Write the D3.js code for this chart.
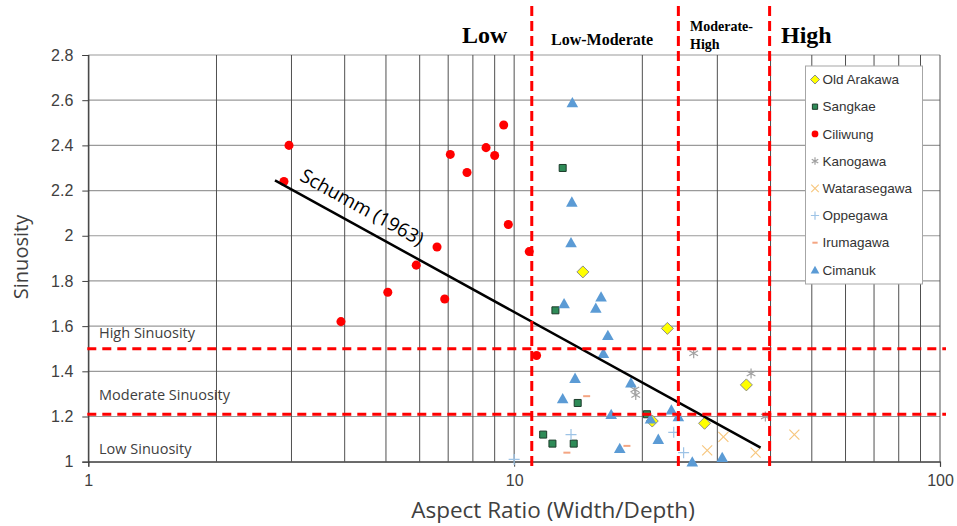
<!DOCTYPE html>
<html>
<head>
<meta charset="utf-8">
<script src="https://cdn.jsdelivr.net/npm/d3@7"></script>
<style>
  body { margin: 0; background: #fff; }
  svg { display: block; }
</style>
</head>
<body>
<script>
// data: [aspect ratio, sinuosity]
const oldArakawa = [[14.5, 1.84], [22.9, 1.59], [35.1, 1.34], [28.0, 1.17], [21.1, 1.18]];
const sangkae = [[13.0, 2.30], [12.5, 1.67], [14.1, 1.26], [11.7, 1.12], [12.3, 1.08], [13.8, 1.08], [20.5, 1.21]];
const ciliwung = [[2.96, 2.40], [2.88, 2.24], [7.08, 2.36], [8.59, 2.39], [9.0, 2.355], [9.45, 2.49],
  [7.75, 2.28], [9.69, 2.05], [6.59, 1.95], [10.85, 1.93], [5.89, 1.87], [5.05, 1.75], [6.87, 1.72],
  [3.92, 1.62], [11.29, 1.47]];
const kanogawa = [[26.4, 1.48], [36.0, 1.39], [19.2, 1.32], [19.3, 1.295], [38.9, 1.20]];
const watarasegawa = [[31.0, 1.11], [28.4, 1.05], [36.9, 1.04], [45.5, 1.12]];
const oppegawa = [[13.6, 1.12], [10.0, 1.01], [23.7, 1.13], [25.0, 1.04]];
const irumagawa = [[14.8, 1.29], [13.3, 1.04], [18.4, 1.07]];
const cimanuk = [[13.7, 2.59], [13.66, 2.15], [13.6, 1.97], [16.0, 1.73], [13.1, 1.70], [15.55, 1.68],
  [16.6, 1.56], [16.2, 1.48], [13.9, 1.37], [13.0, 1.28], [18.8, 1.35], [16.9, 1.21], [17.7, 1.06],
  [23.4, 1.23], [24.3, 1.20], [21.8, 1.10], [26.2, 1.00], [30.8, 1.02], [20.9, 1.19]];
const schumm = [[2.744, 2.245], [37.9, 1.062]];

const seriesNames = ["Old Arakawa", "Sangkae", "Ciliwung", "Kanogawa", "Watarasegawa", "Oppegawa", "Irumagawa", "Cimanuk"];
const seriesData = [oldArakawa, sangkae, ciliwung, kanogawa, watarasegawa, oppegawa, irumagawa, cimanuk];

const yTicks = [1, 1.2, 1.4, 1.6, 1.8, 2, 2.2, 2.4, 2.6, 2.8];
const xTicks = [1, 10, 100];
const ratioBreaks = [11, 24.3, 39.8];   // vertical red dashed lines
const sinuosityBreaks = [1.5, 1.21];    // horizontal red dashed lines

let w = 957, h = 526;
let pLeft = 88.3, pRight = 940, pTop = 55, pBottom = 461.7;

let svg = d3.select("body").append("svg").attr("width", w).attr("height", h)

let x = d3.scaleLog().domain([1, 100]).range([pLeft, pRight])
let y = d3.scaleLinear().domain([1, 2.8]).range([pBottom, pTop])

// gridlines
let gridX = []
for (let k of [1, 10]) for (let m = 1; m <= 10; m++) gridX.push(k * m)
gridX = Array.from(new Set(gridX))

svg.append("g").selectAll("line").data(yTicks).enter().append("line")
  .attr("x1", pLeft).attr("x2", pRight)
  .attr("y1", d => y(d)).attr("y2", d => y(d))
  .attr("stroke", "#9a9a9a").attr("stroke-width", 1.2)

svg.append("g").selectAll("line").data(gridX).enter().append("line")
  .attr("x1", d => x(d)).attr("x2", d => x(d))
  .attr("y1", pTop).attr("y2", pBottom)
  .attr("stroke", "#505050").attr("stroke-width", 1)

// axes
let xAxis = d3.axisBottom(x).tickValues(xTicks).tickFormat(d3.format("d")).tickSize(5).tickPadding(8)
let yAxis = d3.axisLeft(y).tickValues(yTicks).tickFormat(d => String(+d.toFixed(1))).tickSize(6).tickPadding(9)

let gx = svg.append("g").attr("transform", "translate(0," + pBottom + ")").call(xAxis)
let gy = svg.append("g").attr("transform", "translate(" + pLeft + ",0)").call(yAxis)
for (let g of [gx, gy]) {
  g.select(".domain").attr("stroke", "#404040").attr("stroke-width", 1.2)
  g.selectAll(".tick line").attr("stroke", "#404040")
  g.selectAll("text").attr("fill", "#404040").style("font-family", "Liberation Sans, Arial, sans-serif").style("font-size", "16px")
}

// axis titles
svg.append("text").attr("x", 553).attr("y", 518).attr("text-anchor", "middle")
  .style("font-family", "Open Sans, sans-serif").style("font-size", "22.5px").attr("fill", "#404040")
  .text("Aspect Ratio (Width/Depth)")
svg.append("text").attr("transform", "translate(28,257) rotate(-90)").attr("text-anchor", "middle")
  .style("font-family", "Open Sans, sans-serif").style("font-size", "20px").attr("fill", "#404040")
  .text("Sinuosity")

// sinuosity class labels
const classLabels = [["High Sinuosity", 337.5], ["Moderate Sinuosity", 399.5], ["Low Sinuosity", 454]]
svg.append("g").selectAll("text").data(classLabels).enter().append("text")
  .attr("x", 99).attr("y", d => d[1])
  .style("font-family", "Open Sans, sans-serif").style("font-size", "14.5px").attr("fill", "#404040")
  .text(d => d[0])

// markers
function markerPath(i, s) {
  s = s || 1
  if (i == 0) { let r = 6 * s; return `M0,${-r}L${r},0L0,${r}L${-r},0Z` }
  if (i == 1) { let r = 3.5 * s; return `M${-r},${-r}H${r}V${r}H${-r}Z` }
  if (i == 2) return d3.symbol(d3.symbolCircle, 64 * s * s)()
  if (i == 3) { let r = 5 * s; let a = r * 0.87, b = r * 0.5;
    return `M${-a},${-b}L${a},${b}M${-a},${b}L${a},${-b}M0,${-r}L0,${r}` }
  if (i == 4) { let r = 5 * s; return `M${-r},${-r}L${r},${r}M${-r},${r}L${r},${-r}` }
  if (i == 5) { let r = 5.5 * s; return `M${-r},0H${r}M0,${-r}V${r}` }
  if (i == 6) { let r = 3.5 * s; return `M${-r},0H${r}` }
  if (i == 7) { let a = 5.8 * s, t = 5.5 * s, b = 4.8 * s; return `M0,${-t}L${a},${b}L${-a},${b}Z` }
}
const markerStyle = [
  { fill: "#ffff00", stroke: "#8c8c8c", sw: 1 },
  { fill: "#2e8b57", stroke: "#1c3b2a", sw: 1 },
  { fill: "#ff0000", stroke: "none", sw: 0 },
  { fill: "none", stroke: "#a0a0a0", sw: 1.2 },
  { fill: "none", stroke: "#f7c77f", sw: 1.2 },
  { fill: "none", stroke: "#9dc3e6", sw: 1.2 },
  { fill: "none", stroke: "#f4a582", sw: 2 },
  { fill: "#5b9bd5", stroke: "none", sw: 0 }
]

seriesData.forEach((data, i) => {
  svg.append("g").selectAll("path").data(data).enter().append("path")
    .attr("transform", d => "translate(" + x(d[0]) + "," + y(d[1]) + ")")
    .attr("d", markerPath(i))
    .attr("fill", markerStyle[i].fill).attr("stroke", markerStyle[i].stroke)
    .attr("stroke-width", markerStyle[i].sw)
})

// Schumm (1963) line
svg.append("path").datum(schumm)
  .attr("d", d3.line().x(d => x(d[0])).y(d => y(d[1])))
  .attr("stroke", "#000").attr("stroke-width", 2.5).attr("fill", "none")
let ang = Math.atan2(y(schumm[1][1]) - y(schumm[0][1]), x(schumm[1][0]) - x(schumm[0][0])) * 180 / Math.PI
svg.append("text").attr("transform", "translate(359,213) rotate(" + ang + ")").attr("text-anchor", "middle")
  .style("font-family", "Open Sans, sans-serif").style("font-size", "19px").attr("fill", "#000")
  .text("Schumm (1963)")

// red dashed class boundaries
svg.append("g").selectAll("line").data(sinuosityBreaks).enter().append("line")
  .attr("x1", pLeft - 1).attr("x2", 946)
  .attr("y1", d => y(d)).attr("y2", d => y(d))
  .attr("stroke", "#ff0000").attr("stroke-width", 3).attr("stroke-dasharray", "9,6")
svg.append("g").selectAll("line").data(ratioBreaks).enter().append("line")
  .attr("x1", d => x(d)).attr("x2", d => x(d))
  .attr("y1", 6).attr("y2", 468)
  .attr("stroke", "#ff0000").attr("stroke-width", 3).attr("stroke-dasharray", "10,5")

// aspect ratio class labels
const serif = "Liberation Serif, Times New Roman, serif"
const regionLabels = [
  { t: "Low", x: 462, y: 43, s: 24 },
  { t: "Low-Moderate", x: 551, y: 44.5, s: 16 },
  { t: "Moderate-", x: 690, y: 31, s: 14 },
  { t: "High", x: 690, y: 48.5, s: 14 },
  { t: "High", x: 781, y: 43, s: 24 }
]
svg.append("g").selectAll("text").data(regionLabels).enter().append("text")
  .attr("x", d => d.x).attr("y", d => d.y)
  .style("font-family", serif).style("font-weight", "bold").style("font-size", d => d.s + "px")
  .attr("fill", "#000").text(d => d.t)

// legend
let legend = svg.append("g")
legend.append("rect").attr("x", 805.5).attr("y", 66).attr("width", 117).attr("height", 218)
  .attr("fill", "#fff").attr("stroke", "#a6a6a6").attr("stroke-width", 1)
seriesNames.forEach((name, i) => {
  let ly = 79.5 + i * 27.2
  legend.append("path").attr("transform", "translate(815," + ly + ")")
    .attr("d", markerPath(i, 0.75))
    .attr("fill", markerStyle[i].fill).attr("stroke", markerStyle[i].stroke)
    .attr("stroke-width", markerStyle[i].sw)
  legend.append("text").attr("x", 822.5).attr("y", ly).attr("dy", "0.35em")
    .style("font-family", "Liberation Sans, Arial, sans-serif").style("font-size", "13.5px")
    .attr("fill", "#333").text(name)
})
</script>
</body>
</html>
